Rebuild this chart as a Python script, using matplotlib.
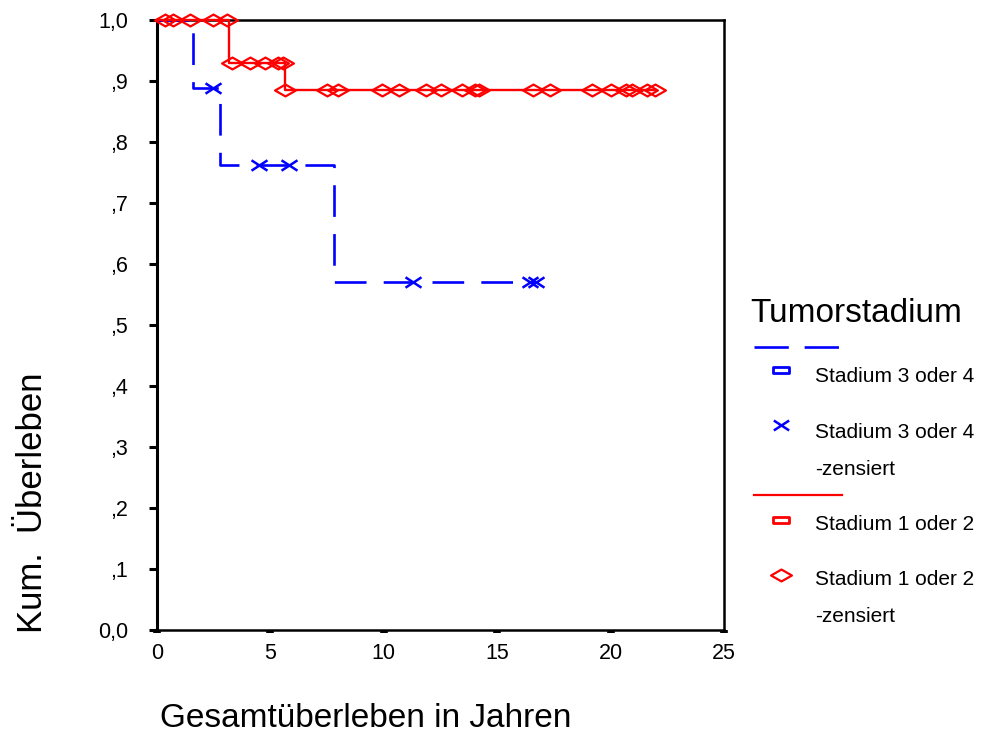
import numpy as np
import matplotlib
matplotlib.use("Agg")
import matplotlib.pyplot as plt
from matplotlib.path import Path

plt.rcParams["font.family"] = ["Liberation Sans", "DejaVu Sans"]

# Kaplan-Meier steps (years, survival)
BLUE_STEP_T = [0.0, 1.58, 2.78, 7.8, 16.7]
BLUE_STEP_S = [1.0, 0.889, 0.762, 0.571, 0.571]
BLUE_CENS_T = [2.45, 4.5, 5.8, 11.3, 16.45, 16.7]
BLUE_CENS_S = [0.889, 0.762, 0.762, 0.571, 0.571, 0.571]

RED_STEP_T = [0.0, 3.17, 5.64, 21.95]
RED_STEP_S = [1.0, 0.929, 0.885, 0.885]
RED_CENS_T = [0.35, 0.7, 1.45, 2.45, 3.1,
              3.3, 4.1, 4.75, 5.35, 5.55,
              5.65, 7.5, 8.0, 9.9, 10.65, 11.85, 12.5, 13.45, 14.0, 14.2,
              16.6, 17.35, 19.2, 20.0, 20.7, 20.95, 21.6, 21.95]
RED_CENS_S = [1.0] * 5 + [0.929] * 5 + [0.885] * 18

Y_TICKS = [0.0, 0.1, 0.2, 0.3, 0.4, 0.5, 0.6, 0.7, 0.8, 0.9, 1.0]
Y_TICKLABELS = ["0,0", ",1", ",2", ",3", ",4", ",5", ",6", ",7", ",8", ",9", "1,0"]
X_TICKS = [0, 5, 10, 15, 20, 25]

BLUE = "#0000ff"
RED = "#ff0000"

# wide diamond and flat cross like the SPSS markers
DIAMOND = Path([(-1, 0), (0, 0.57), (1, 0), (0, -0.57), (-1, 0)],
               [Path.MOVETO, Path.LINETO, Path.LINETO, Path.LINETO, Path.CLOSEPOLY])
CROSS = Path([(-1, -0.65), (1, 0.65), (-1, 0.65), (1, -0.65)],
             [Path.MOVETO, Path.LINETO, Path.MOVETO, Path.LINETO])
RECT = Path([(-1, -0.45), (1, -0.45), (1, 0.45), (-1, 0.45), (-1, -0.45)],
            [Path.MOVETO, Path.LINETO, Path.LINETO, Path.LINETO, Path.CLOSEPOLY])

W, H = 988, 736
fig = plt.figure(figsize=(W / 100, H / 100), dpi=100)
ax = fig.add_axes([157 / W, 1 - 630 / H, (724 - 157) / W, (630 - 20) / H])

dash = (0, (12, 6.5))
ax.step(BLUE_STEP_T, BLUE_STEP_S, where="post", color=BLUE, lw=1.9,
        linestyle=dash, zorder=3, clip_on=False)
ax.plot(BLUE_CENS_T, BLUE_CENS_S, linestyle="none", marker=CROSS, ms=11.5,
        mec=BLUE, mew=1.8, zorder=4, clip_on=False)
ax.step(RED_STEP_T, RED_STEP_S, where="post", color=RED, lw=1.7,
        zorder=5, clip_on=False)
ax.plot(RED_CENS_T, RED_CENS_S, linestyle="none", marker=DIAMOND, ms=15,
        mfc="none", mec=RED, mew=1.6, zorder=6, clip_on=False)

ax.set_xlim(0, 25)
ax.set_ylim(0, 1.0)
ax.set_yticks(Y_TICKS)
ax.set_yticklabels(Y_TICKLABELS)
ax.set_xticks(X_TICKS)
ax.tick_params(axis="y", direction="out", length=6, width=2.2, pad=15, labelsize=15.5)
ax.tick_params(axis="x", direction="out", length=2.2, width=5.5, pad=7, labelsize=15.5)
for sp in ax.spines.values():
    sp.set_linewidth(1.8)
    sp.set_color("black")
ax.spines["left"].set_linewidth(2.2)

fig.text(32 / W, 1 - 633 / H, "Kum.  Überleben", rotation=90, ha="center",
         va="bottom", fontsize=25)
fig.text(160 / W, 1 - 727 / H, "Gesamtüberleben in Jahren", ha="left",
         va="baseline", fontsize=24)

# legend drawn in pixel coordinates
lg = fig.add_axes([0, 0, 1, 1], zorder=10)
lg.set_xlim(0, W)
lg.set_ylim(H, 0)
lg.axis("off")
lg.patch.set_alpha(0)

lg.text(750, 322, "Tumorstadium", fontsize=24, va="baseline")
lg.plot([754, 842], [347, 347], color=BLUE, lw=1.9, linestyle=(0, (13, 6)))
lg.plot([781], [370], marker=RECT, ms=11, mfc="none", mec=BLUE, mew=2)
lg.text(815, 382, "Stadium 3 oder 4", fontsize=15, va="baseline")
lg.plot([781], [425], marker=CROSS, ms=11, mec=BLUE, mew=1.8)
lg.text(815, 438, "Stadium 3 oder 4", fontsize=15, va="baseline")
lg.text(815, 475, "-zensiert", fontsize=15, va="baseline")
lg.plot([754, 842], [495, 495], color=RED, lw=1.6)
lg.plot([781], [520], marker=RECT, ms=11, mfc="none", mec=RED, mew=2)
lg.text(815, 530, "Stadium 1 oder 2", fontsize=15, va="baseline")
lg.plot([781], [575], marker=DIAMOND, ms=15, mfc="none", mec=RED, mew=1.6)
lg.text(815, 585, "Stadium 1 oder 2", fontsize=15, va="baseline")
lg.text(815, 622, "-zensiert", fontsize=15, va="baseline")

fig.savefig("out.png", dpi=100)
